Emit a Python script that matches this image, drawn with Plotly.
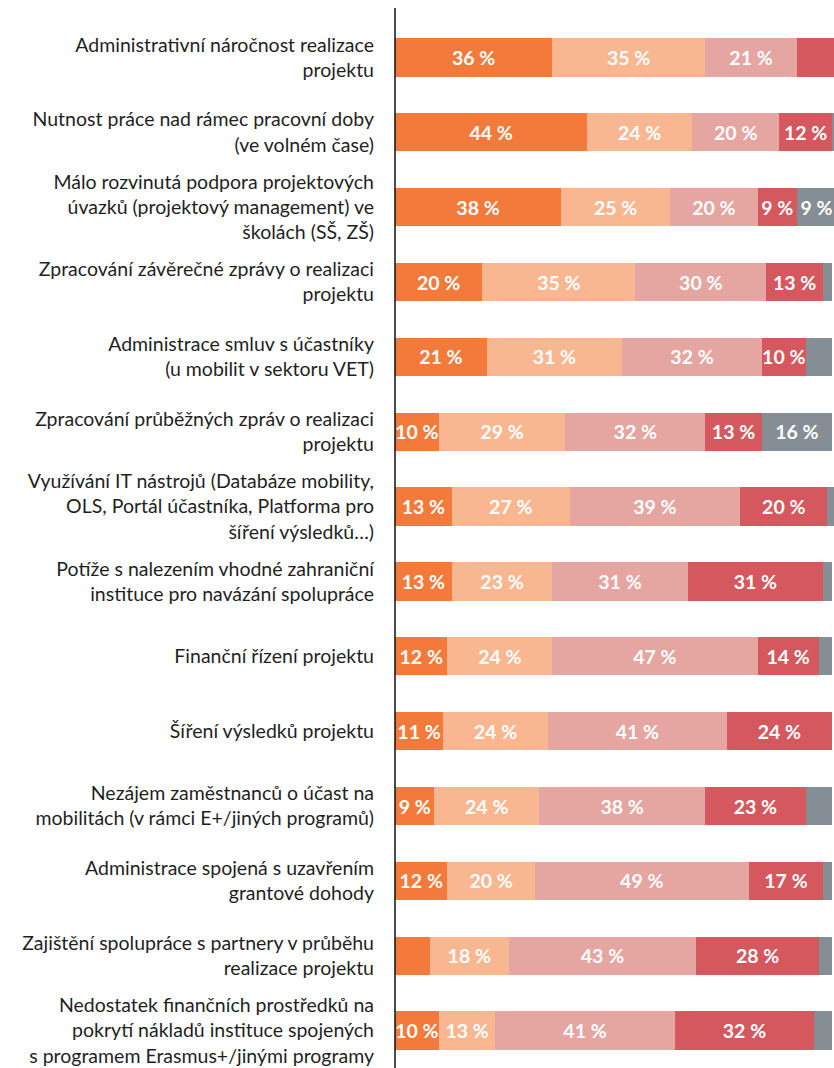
import plotly.graph_objects as go

# Problem areas, listed top to bottom
categories = [
    "Administrativní náročnost realizace<br>projektu",
    "Nutnost práce nad rámec pracovní doby<br>(ve volném čase)",
    "Málo rozvinutá podpora projektových<br>úvazků (projektový management) ve<br>školách (SŠ, ZŠ)",
    "Zpracování závěrečné zprávy o realizaci<br>projektu",
    "Administrace smluv s účastníky<br>(u mobilit v sektoru VET)",
    "Zpracování průběžných zpráv o realizaci<br>projektu",
    "Využívání IT nástrojů (Databáze mobility,<br>OLS, Portál účastníka, Platforma pro<br>šíření výsledků…)",
    "Potíže s nalezením vhodné zahraniční<br>instituce pro navázání spolupráce",
    "Finanční řízení projektu",
    "Šíření výsledků projektu",
    "Nezájem zaměstnanců o účast na<br>mobilitách (v rámci E+/jiných programů)",
    "Administrace spojená s uzavřením<br>grantové dohody",
    "Zajištění spolupráce s partnery v průběhu<br>realizace projektu",
    "Nedostatek finančních prostředků na<br>pokrytí nákladů instituce spojených<br>s programem Erasmus+/jinými programy",
]

# Shares (%) for the five answer levels, one value per category
level_1 = [36, 44, 38, 20, 21, 10, 13, 13, 12, 11, 9, 12, 8, 10]
level_2 = [35, 24, 25, 35, 31, 29, 27, 23, 24, 24, 24, 20, 18, 13]
level_3 = [21, 20, 20, 30, 32, 32, 39, 31, 47, 41, 38, 49, 43, 41]
level_4 = [9, 12, 9, 13, 10, 13, 20, 31, 14, 24, 23, 17, 28, 32]
level_5 = [0, 2, 9, 2, 6, 16, 2, 2, 3, 0, 6, 2, 3, 4]

# Segments printed without a value label: (series index, category index)
unlabeled = {(3, 0), (0, 12)} | {(4, i) for i in range(14) if i not in (2, 5)}

series = [level_1, level_2, level_3, level_4, level_5]
colors = ["#F47A3B", "#F9B791", "#E5A5A1", "#D4585E", "#858E95"]

fig = go.Figure()
for s, (vals, col) in enumerate(zip(series, colors)):
    texts = ["" if (s, i) in unlabeled or v == 0 else f"{v} %" for i, v in enumerate(vals)]
    fig.add_trace(go.Bar(
        y=list(range(len(categories))),
        x=vals,
        orientation="h",
        marker=dict(color=col, line=dict(width=0)),
        text=texts,
        textposition="inside",
        insidetextanchor="middle",
        textangle=0,
        textfont=dict(family="Lato", size=19.5, color="white", weight="bold"),
        hoverinfo="skip",
        showlegend=False,
    ))

fig.update_layout(
    barmode="stack",
    bargap=0.49,
    width=834,
    height=1068,
    margin=dict(l=395, r=0, t=20, b=0),
    paper_bgcolor="white",
    plot_bgcolor="white",
    uniformtext=dict(minsize=19, mode="show"),
    xaxis=dict(range=[0, 100.5], visible=False, fixedrange=True),
    yaxis=dict(
        range=[len(categories) - 0.5, -0.5],
        tickmode="array",
        tickvals=list(range(len(categories))),
        ticktext=categories,
        ticks="",
        ticklabelstandoff=20,
        tickfont=dict(family="Lato", size=19.5, color="#1f1f1f"),
        showgrid=False,
        zeroline=False,
        showline=False,
        fixedrange=True,
    ),
    shapes=[dict(
        type="line", xref="paper", yref="paper",
        x0=0, x1=0, y0=0, y1=1 + 12 / 1048,
        line=dict(color="#111111", width=1.5),
    )],
)

fig.write_html("out.html")
